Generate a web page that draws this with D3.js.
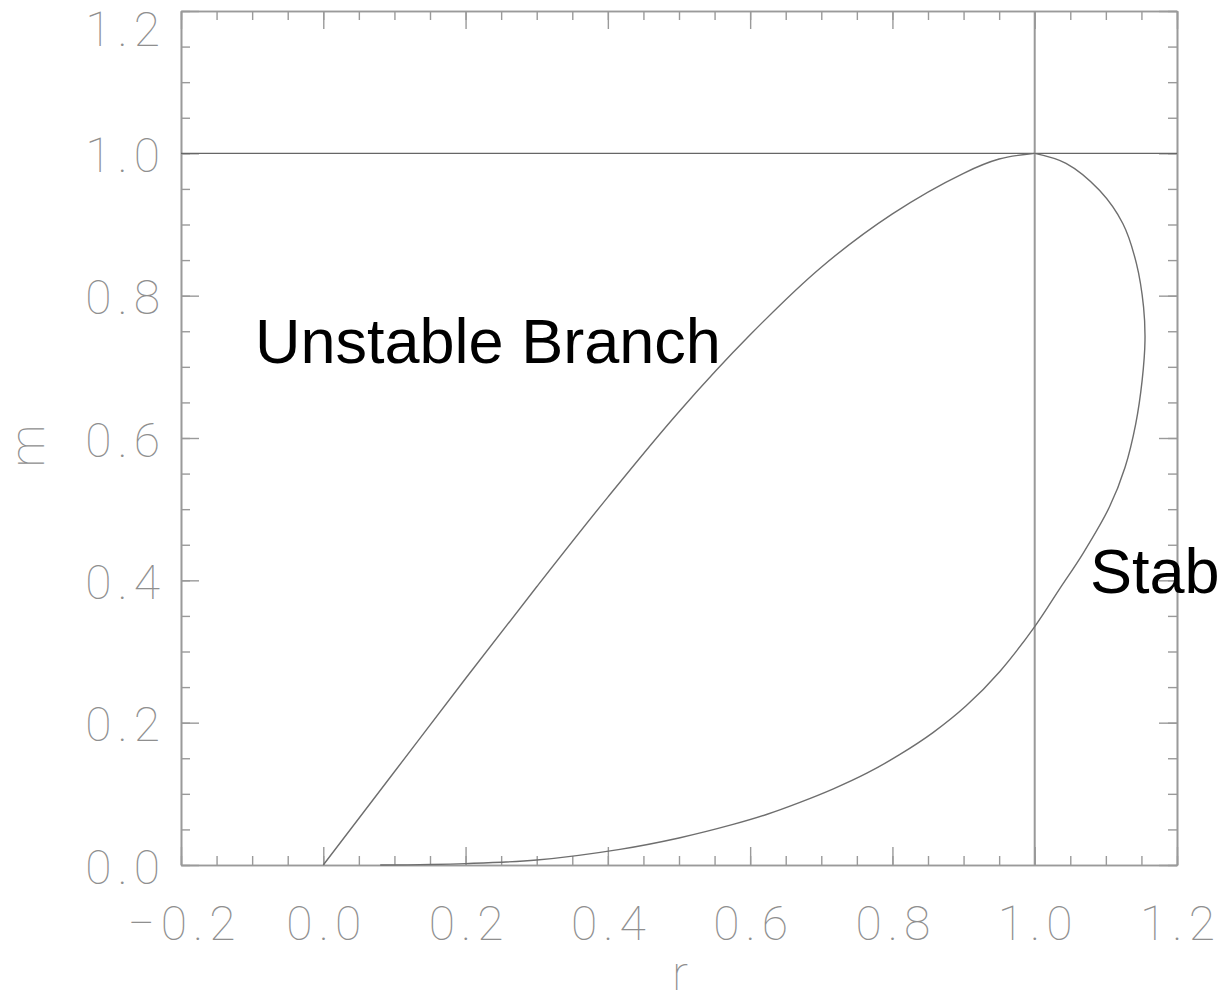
<!DOCTYPE html>
<html>
<head>
<meta charset="utf-8">
<script src="https://cdn.jsdelivr.net/npm/d3@7"></script>
<style>
  body { margin: 0; background: #fff; }
  svg { display: block; }
  .tick text { font-family: "Roboto", "Liberation Sans", sans-serif; font-weight: 100; fill: #8f8f8f; letter-spacing: 6px; }
</style>
</head>
<body>
<svg width="1220" height="1004"></svg>
<script>
const width = 1220;
const height = 1004;

// unstable branch (r, m)
const unstableR = [0.0, 0.1, 0.2, 0.3, 0.4, 0.5, 0.6, 0.7, 0.8, 0.9, 0.95, 1.0];
const unstableM = [0.0, 0.131, 0.262, 0.391, 0.517, 0.637, 0.745, 0.84, 0.915, 0.972, 0.992, 1.0];

// stable branch, from the top of the loop round to the bottom
const stableR = [1.0, 1.044, 1.091, 1.124, 1.143, 1.153, 1.155, 1.151, 1.142, 1.127, 1.105, 1.068, 1.035, 1.0, 0.951, 0.904, 0.857, 0.81, 0.764, 0.717, 0.67, 0.623, 0.576, 0.5, 0.417, 0.3, 0.2, 0.08];
const stableM = [1.0, 0.986, 0.948, 0.901, 0.845, 0.784, 0.737, 0.681, 0.62, 0.559, 0.503, 0.438, 0.388, 0.335, 0.272, 0.224, 0.186, 0.155, 0.129, 0.107, 0.088, 0.071, 0.057, 0.038, 0.022, 0.007, 0.002, 0.0];

const xMajor = [-0.2, 0.0, 0.2, 0.4, 0.6, 0.8, 1.0, 1.2];
const yMajor = [0.0, 0.2, 0.4, 0.6, 0.8, 1.0, 1.2];
const xMinor = d3.range(-0.2, 1.2001, 0.05).map(v => +v.toFixed(2));
const yMinor = d3.range(0.0, 1.2001, 0.05).map(v => +v.toFixed(2));

const svg = d3.select("svg");

const x = d3.scaleLinear().domain([-0.2, 1.2]).range([181, 1177]);
const y = d3.scaleLinear().domain([0, 1.2]).range([865, 11]);

const fmt = d3.format(".1f");
const axisColor = "#9a9a9a";

function styleAxis(g) {
    g.select(".domain").attr("stroke", axisColor).attr("stroke-width", 1.6);
    g.selectAll(".tick line").attr("stroke", axisColor).attr("stroke-width", 1.4);
}

// bottom
svg.append("g").attr("transform", `translate(0,${y(0)})`)
    .call(d3.axisBottom(x).tickValues(xMinor).tickSize(-9).tickFormat("").tickSizeOuter(0))
    .call(styleAxis);
svg.append("g").attr("transform", `translate(0,${y(0)})`)
    .call(d3.axisBottom(x).tickValues(xMajor).tickSize(-18).tickSizeOuter(0).tickFormat(fmt))
    .call(styleAxis)
    .call(g => g.selectAll(".tick text").attr("font-size", 48).attr("dy", 0).attr("y", 75).attr("dx", 3));
// top
svg.append("g").attr("transform", `translate(0,${y(1.2)})`)
    .call(d3.axisTop(x).tickValues(xMinor).tickSize(-9).tickFormat("").tickSizeOuter(0))
    .call(styleAxis);
svg.append("g").attr("transform", `translate(0,${y(1.2)})`)
    .call(d3.axisTop(x).tickValues(xMajor).tickSize(-18).tickFormat("").tickSizeOuter(0))
    .call(styleAxis);
// left
svg.append("g").attr("transform", `translate(${x(-0.2)},0)`)
    .call(d3.axisLeft(y).tickValues(yMinor).tickSize(-9).tickFormat("").tickSizeOuter(0))
    .call(styleAxis);
svg.append("g").attr("transform", `translate(${x(-0.2)},0)`)
    .call(d3.axisLeft(y).tickValues(yMajor).tickSize(-18).tickSizeOuter(0).tickFormat(fmt))
    .call(styleAxis)
    .call(g => g.selectAll(".tick text")
        .attr("font-size", 48)
        .attr("x", -15)
        .attr("dy", d => d === 1.2 ? 34 : 18));
// right
svg.append("g").attr("transform", `translate(${x(1.2)},0)`)
    .call(d3.axisRight(y).tickValues(yMinor).tickSize(-9).tickFormat("").tickSizeOuter(0))
    .call(styleAxis);
svg.append("g").attr("transform", `translate(${x(1.2)},0)`)
    .call(d3.axisRight(y).tickValues(yMajor).tickSize(-18).tickFormat("").tickSizeOuter(0))
    .call(styleAxis);

// axis titles
svg.append("text")
    .attr("x", 680).attr("y", 990)
    .attr("text-anchor", "middle")
    .attr("font-family", "Roboto, 'Liberation Sans', sans-serif")
    .attr("font-weight", 100)
    .attr("font-size", 48)
    .attr("fill", "#8f8f8f")
    .text("r");
svg.append("text")
    .attr("transform", `translate(44,${y(0.6) + 8}) rotate(-90)`)
    .attr("text-anchor", "middle")
    .attr("font-family", "Roboto, 'Liberation Sans', sans-serif")
    .attr("font-weight", 100)
    .attr("font-size", 48)
    .attr("fill", "#8f8f8f")
    .text("m");

// reference lines at m = 1 and r = 1
svg.append("line")
    .attr("x1", x(-0.2)).attr("x2", x(1.2))
    .attr("y1", y(1)).attr("y2", y(1))
    .attr("stroke", "#666").attr("stroke-width", 1.4);
svg.append("line")
    .attr("x1", x(1)).attr("x2", x(1))
    .attr("y1", y(0)).attr("y2", y(1.2))
    .attr("stroke", "#999").attr("stroke-width", 2);

// the loop
const line = d3.line()
    .x(d => x(d[0]))
    .y(d => y(d[1]))
    .curve(d3.curveCatmullRom.alpha(0.5));

const unstable = unstableR.map((r, i) => [r, unstableM[i]]);
const stable = stableR.map((r, i) => [r, stableM[i]]);

svg.append("path")
    .datum(unstable)
    .attr("d", line)
    .attr("fill", "none")
    .attr("stroke", "#6e6e6e")
    .attr("stroke-width", 1.4);
svg.append("path")
    .datum(stable)
    .attr("d", line)
    .attr("fill", "none")
    .attr("stroke", "#6e6e6e")
    .attr("stroke-width", 1.4);

// branch labels
svg.append("text")
    .attr("x", 255).attr("y", 363)
    .attr("font-family", "'Liberation Sans', Arial, sans-serif")
    .attr("font-size", 63)
    .attr("fill", "#000")
    .text("Unstable Branch");
svg.append("text")
    .attr("x", 1090).attr("y", 593)
    .attr("font-family", "'Liberation Sans', Arial, sans-serif")
    .attr("font-size", 63)
    .attr("fill", "#000")
    .text("Stable Branch");
</script>
</body>
</html>
